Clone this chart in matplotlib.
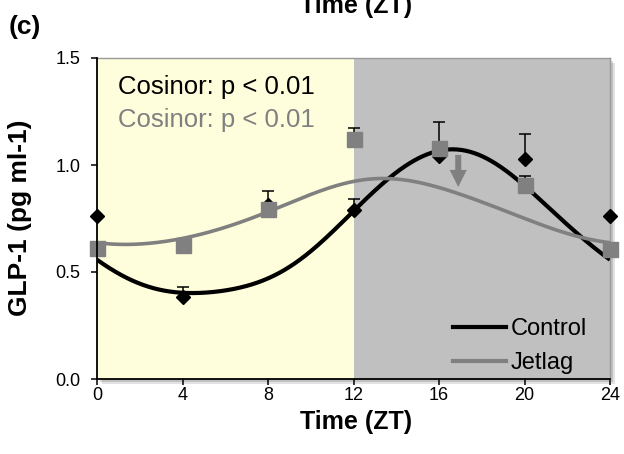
import numpy as np
import matplotlib
matplotlib.use("Agg")
import matplotlib.pyplot as plt
from matplotlib.lines import Line2D
from matplotlib.patches import Rectangle

plt.rcParams['font.family'] = ['Liberation Sans', 'DejaVu Sans']

# Sampling times (Zeitgeber time, h) and group means / SEM
zt = [0, 4, 8, 12, 16, 20, 24]
control_mean = [0.76, 0.385, 0.815, 0.79, 1.04, 1.03, 0.76]
control_sem = [0.0, 0.047, 0.063, 0.051, 0.163, 0.114, 0.0]
jetlag_mean = [0.61, 0.626, 0.794, 1.12, 1.078, 0.907, 0.606]
jetlag_sem = [0.0, 0.0, 0.0, 0.051, 0.0, 0.043, 0.0]

# Cosinor curves evaluated every 2 h
fit_zt = [0, 2, 4, 6, 8, 10, 12, 14, 16, 18, 20, 22, 24]
control_fit = [0.556, 0.445, 0.403, 0.414, 0.47, 0.597, 0.785, 0.964, 1.068,
               1.04, 0.905, 0.72, 0.56]
jetlag_fit = [0.634, 0.630, 0.658, 0.708, 0.782, 0.862, 0.923, 0.935, 0.894,
              0.828, 0.75, 0.68, 0.64]

x_ticks = [0, 4, 8, 12, 16, 20, 24]
y_ticks = [0.0, 0.5, 1.0, 1.5]
y_tick_labels = ['0.0', '0.5', '1.0', '1.5']

stat_text = 'Cosinor: p < 0.01'
series_names = ['Control', 'Jetlag']

# phase-shift arrow on the jetlag curve
arrow_zt, arrow_top, arrow_tip = 16.9, 1.047, 0.897

BLACK = '#000000'
GREY = '#808080'
LIGHT = '#FEFEDC'
DARK = '#C0C0C0'

W, H = 624, 454
fig = plt.figure(figsize=(W / 100, H / 100), dpi=100)
L, R, T, B = 97, 610, 58, 379
ax = fig.add_axes([L / W, 1 - B / H, (R - L) / W, (B - T) / H])
ax.set_zorder(2)


def smooth_periodic(x, y, n_harm=4, period=24.0, num=481):
    x = np.asarray(x, float)
    y = np.asarray(y, float)

    def design(t):
        cols = [np.ones_like(t)]
        for k in range(1, n_harm + 1):
            w = 2 * np.pi * k * t / period
            cols += [np.cos(w), np.sin(w)]
        return np.column_stack(cols)

    coef, *_ = np.linalg.lstsq(design(x), y, rcond=None)
    t = np.linspace(0, period, num)
    return t, design(t) @ coef


# drop shadow of the plot area (sits behind the axes)
for off, a in [(5, 0.18), (3, 0.25)]:
    fig.patches.append(Rectangle(((L + off) / W, 1 - (B + off) / H),
                                 (R - L) / W, (B - T) / H,
                                 transform=fig.transFigure, color='#606060',
                                 alpha=a, lw=0, zorder=-1))

ax.set_xlim(0, 24)
ax.set_ylim(0, 1.5)
ax.axvspan(0, 12, color=LIGHT, lw=0, zorder=0)
ax.axvspan(12, 24, color=DARK, lw=0, zorder=0)

t, c = smooth_periodic(fit_zt, control_fit)
ax.plot(t, c, color=BLACK, lw=3.0, zorder=3, solid_capstyle='butt')
t, j = smooth_periodic(fit_zt, jetlag_fit)
ax.plot(t, j, color=GREY, lw=2.6, zorder=3, solid_capstyle='butt')


def draw_group(mean, sem, marker, ms, color, z):
    x = np.asarray(zt, float)
    m = np.asarray(mean, float)
    s = np.asarray(sem, float)
    has = s > 0
    ax.errorbar(x[has], m[has], yerr=[np.zeros(has.sum()), s[has]], fmt='none',
                ecolor=BLACK, elinewidth=1.1, capsize=4.3, capthick=1.1,
                zorder=z)
    ax.plot(x, m, ls='none', marker=marker, ms=ms, color=color, mec=color,
            zorder=z + 1, clip_on=False)


draw_group(control_mean, control_sem, 'D', 7.6, BLACK, 4)
draw_group(jetlag_mean, jetlag_sem, 's', 10.8, GREY, 6)

ax.arrow(arrow_zt, arrow_top, 0, arrow_tip - arrow_top, width=0.28,
         head_width=0.8, head_length=0.08, length_includes_head=True,
         color=GREY, lw=0, zorder=8)

ax.text((118 - L) / (R - L), (B - 87) / (B - T), stat_text, transform=ax.transAxes,
        fontsize=18.5, color=BLACK, va='center', ha='left', zorder=9)
ax.text((118 - L) / (R - L), (B - 120) / (B - T), stat_text, transform=ax.transAxes,
        fontsize=18.5, color=GREY, va='center', ha='left', zorder=9)

handles = [Line2D([], [], color=BLACK, lw=3.0),
           Line2D([], [], color=GREY, lw=3.0)]
ax.legend(handles, series_names, loc='upper left',
          bbox_to_anchor=((453 - L) / (R - L), (B - 318) / (B - T)),
          frameon=False, fontsize=17, borderpad=0, borderaxespad=0,
          handlelength=2.25, handletextpad=0.2, labelspacing=0.5)

ax.set_xticks(x_ticks)
ax.set_xticklabels([str(v) for v in x_ticks])
ax.set_yticks(y_ticks)
ax.set_yticklabels(y_tick_labels)
ax.tick_params(axis='both', direction='out', length=4, width=1.1,
               labelsize=13, color=BLACK)
ax.tick_params(axis='y', pad=8)
ax.tick_params(axis='x', pad=2)

for side in ['left', 'bottom']:
    ax.spines[side].set_color(BLACK)
    ax.spines[side].set_linewidth(1.3)
    ax.spines[side].set_zorder(10)
for side in ['top', 'right']:
    ax.spines[side].set_color('#999999')
    ax.spines[side].set_linewidth(1.0)

fig.text(356 / W, 1 - 422 / H, 'Time (ZT)', fontsize=18, fontweight='bold',
         ha='center', va='center')
fig.text(356 / W, 1 - 13 / H, 'Time (ZT)', fontsize=18, fontweight='bold',
         ha='center', va='baseline')
fig.text(20 / W, 1 - 218 / H, 'GLP-1 (pg ml-1)', fontsize=19, fontweight='bold',
         ha='center', va='center', rotation=90)
fig.text(9 / W, 1 - 27 / H, '(c)', fontsize=19, fontweight='bold',
         ha='left', va='center')

fig.savefig('out.png', dpi=100, facecolor='white')
